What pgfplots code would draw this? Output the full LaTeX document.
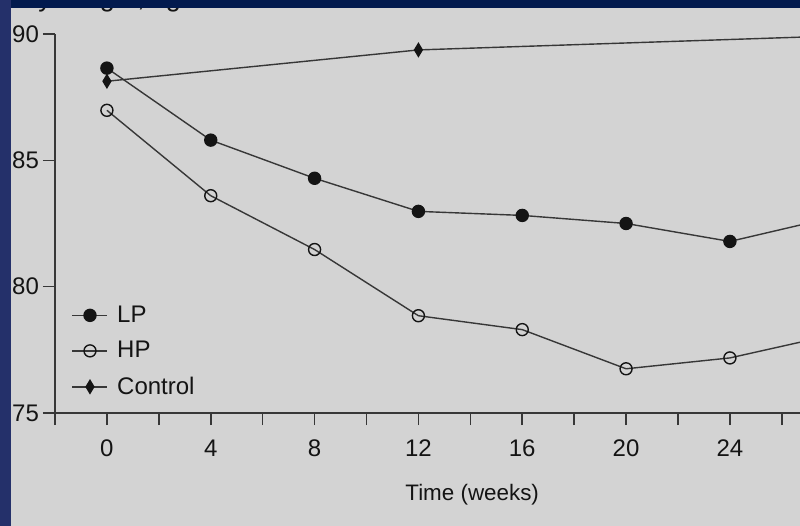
\documentclass[border=0pt]{standalone}
\usepackage{fontspec}
\setmainfont{Liberation Sans}
\usepackage{pgfplots}
\pgfplotsset{compat=1.18}
\definecolor{bg}{RGB}{211,211,211}
\definecolor{navy}{RGB}{2,26,78}
\definecolor{sideblue}{RGB}{36,48,106}
\definecolor{ln}{RGB}{55,55,55}
\definecolor{mk}{RGB}{20,20,20}
\begin{document}
\begin{tikzpicture}[x=1pt,y=1pt]
\path[use as bounding box] (0,0) rectangle (400,263);
\clip (0,0) rectangle (400,263);
\fill[bg] (0,0) rectangle (400,263);
\node[anchor=base west, text=mk, font=\fontsize{13.5}{15}\selectfont, inner sep=0pt] at (-5,259.5) {Body weight, kg};
\begin{axis}[
  at={(27.5pt,56.5pt)}, anchor=south west,
  scale only axis, width=372.5pt, height=189.5pt,
  xmin=-2, xmax=26.7, ymin=75, ymax=90,
  axis x line*=bottom, axis y line*=left,
  axis line style={ln, line width=0.8pt, -},
  xtick={0,4,...,24}, minor xtick={-2,2,...,26},
  ytick={75,80,85,90},
  tick align=outside,
  major tick length=6pt, minor tick length=6pt,
  tick style={ln, line width=0.8pt},
  ticklabel style={font=\fontsize{12}{14}\selectfont, text=mk},
  xticklabel style={yshift=-4pt},
  yticklabel style={xshift=1.5pt},
  /pgf/number format/assume math mode=true,
  xlabel={Time (weeks)},
  xlabel style={at={(axis description cs:0.56,0)}, anchor=center, yshift=-41pt, font=\fontsize{11.2}{13}\selectfont, text=mk},
  clip=false,
  legend cell align=left,
  legend image code/.code={\draw[mark repeat=2,mark phase=2,#1] plot coordinates {(0pt,0pt) (8.75pt,0pt) (17.5pt,0pt)};},
  legend style={draw=none, fill=none, at={(axis description cs:0.022,0.295)}, anchor=north west, inner sep=0pt, row sep=4pt, column sep=2.5pt, font=\fontsize{12}{14}\selectfont, text=mk},
]
\addplot[ln, line width=0.7pt, mark=*, mark size=3pt, mark options={fill=mk, draw=mk, solid}] coordinates {
  (0,88.65) (4,85.8) (8,84.29) (12,82.98) (16,82.82) (20,82.5) (24,81.79) (28,82.75)};
\addlegendentry{LP}
\addplot[ln, line width=0.7pt, mark=o, mark size=3pt, mark options={draw=mk, solid, line width=0.7pt}] coordinates {
  (0,86.98) (4,83.6) (8,81.47) (12,78.85) (16,78.3) (20,76.75) (24,77.18) (28,78.1)};
\addlegendentry{HP}
\addplot[ln, line width=0.7pt, mark=diamond*, mark size=3.2pt, mark options={fill=mk, draw=mk, solid, xscale=0.8}] coordinates {
  (0,88.13) (12,89.37) (28,89.92)};
\addlegendentry{Control}
\end{axis}
\fill[navy] (0,259) rectangle (400,263);
\fill[sideblue] (0,0) rectangle (5.5,263);
\end{tikzpicture}
\end{document}
